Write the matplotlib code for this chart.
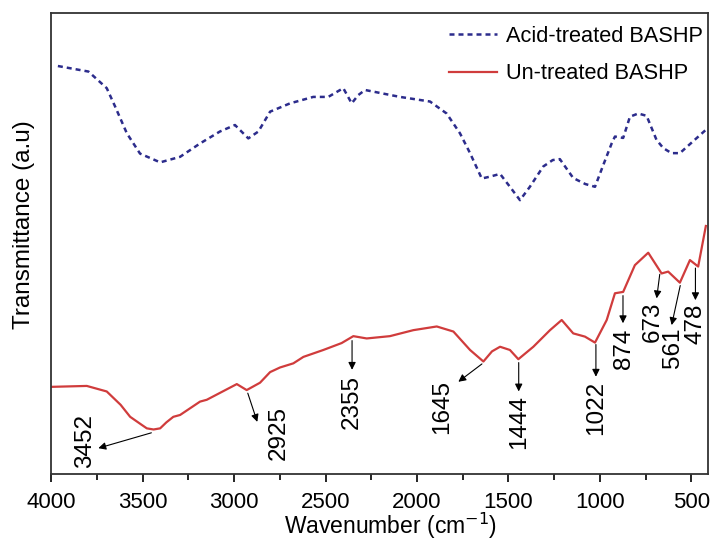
import numpy as np
import matplotlib
matplotlib.use('Agg')
import matplotlib.pyplot as plt

plt.rcParams['font.family'] = ['Liberation Sans', 'DejaVu Sans']

# FTIR spectra (wavenumber in cm-1, transmittance in a.u.)
acid_wn = [3963, 3796, 3696, 3650, 3586, 3514, 3404, 3295, 3186, 3077,
           2995, 2922, 2867, 2803, 2694, 2567, 2485, 2403, 2357, 2321,
           2284, 2093, 1929, 1838, 1765, 1710, 1646, 1601, 1546, 1492,
           1437, 1383, 1310, 1258, 1219, 1146, 1080, 1027, 982, 936,
           918, 873, 836, 791, 745, 691, 654, 609, 563, 490, 417]
acid_t = [88.5, 87.3, 83.7, 79.7, 73.9, 69.5, 67.6, 68.8, 71.7, 74.3,
          75.7, 72.8, 74.3, 78.6, 80.4, 81.8, 81.8, 83.7, 80.4, 82.2,
          83.3, 81.8, 80.8, 78.2, 73.9, 69.6, 64.1, 64.5, 65.1, 62.3,
          59.4, 62.3, 66.7, 68.1, 68.3, 64.2, 62.9, 62.3, 67.0, 71.7,
          73.2, 72.9, 77.5, 78.2, 77.7, 72.5, 70.7, 69.6, 69.6, 72.2, 74.8]

raw_wn = [4000, 3805, 3696, 3620, 3568, 3510, 3477, 3440, 3404, 3370, 3332,
          3295, 3186, 3149, 2985, 2931, 2858, 2803, 2749, 2676, 2621, 2512,
          2412, 2348, 2275, 2148, 2020, 1892, 1801, 1710, 1637, 1590, 1546,
          1492, 1446, 1364, 1273, 1209, 1146, 1082, 1027, 963, 918, 873,
          809, 736, 663, 627, 563, 508, 463, 421]
raw_t = [18.9, 19.1, 17.9, 15.0, 12.4, 10.8, 9.9, 9.65, 9.9, 11.2, 12.4,
         12.8, 15.7, 16.1, 19.5, 18.2, 19.8, 22.1, 23.1, 24.0, 25.4, 26.9,
         28.4, 29.9, 29.4, 29.9, 31.2, 32.0, 30.9, 26.9, 24.4, 26.6, 27.6,
         26.9, 24.9, 27.6, 31.2, 33.4, 30.5, 29.8, 28.5, 33.4, 39.2, 39.5,
         45.3, 48.0, 43.5, 43.9, 41.5, 46.4, 45.0, 53.8]

peak_labels = ['3452', '2925', '2355', '1645', '1444', '1022', '874', '673', '561', '478']

# arrow head and text centre for each peak label
arrow_heads = [(3742, 5.6), (2873, 11.3), (2355, 22.6), (1774, 20.0), (1444, 17.9),
               (1022, 21.1), (874, 32.7), (690, 38.1), (608, 32.3), (478, 37.7)]
text_pos = [(3814, 7.2), (2758, 8.9), (2355, 15.6), (1865, 14.5), (1444, 11.3),
            (1022, 14.3), (868, 27.1), (709, 33.0), (599, 27.4), (478, 32.5)]

fig = plt.figure(figsize=(7.1, 5.42), dpi=100)
ax = fig.add_axes([0.072, 0.1255, 0.925, 0.8505])

ax.plot(acid_wn, acid_t, color='#2c2c8c', lw=1.8, linestyle=(0, (2.0, 1.6)),
        label='Acid-treated BASHP')
ax.plot(raw_wn, raw_t, color='#d03c3c', lw=1.6, label='Un-treated BASHP')

rw = np.array(raw_wn[::-1], dtype=float)
rt = np.array(raw_t[::-1], dtype=float)
for lab, head, tpos in zip(peak_labels, arrow_heads, text_pos):
    wn = float(lab)
    tail = (wn, np.interp(wn, rw, rt) - 0.8)
    ax.annotate('', xy=head, xytext=tail,
                arrowprops=dict(arrowstyle='-|>', color='k', lw=0.8,
                                mutation_scale=11, shrinkA=0, shrinkB=0))
    ax.text(tpos[0], tpos[1], lab, rotation=90, ha='center', va='center',
            fontsize=17.5)

ax.set_xlim(4000, 410)
ax.set_ylim(0, 100)
ax.set_xticks([4000, 3500, 3000, 2500, 2000, 1500, 1000, 500])
ax.set_xticks([3750, 3250, 2750, 2250, 1750, 1250, 750], minor=True)
ax.set_yticks([])
ax.tick_params(axis='x', which='major', direction='out', length=6, width=1.2,
               labelsize=16, pad=7)
ax.tick_params(axis='x', which='minor', direction='out', length=4, width=1.2)
for s in ax.spines.values():
    s.set_linewidth(1.3)
    s.set_color('#333333')

ax.set_xlabel('Wavenumber (cm$^{-1}$)', fontsize=16.5, va='bottom')
ax.xaxis.set_label_coords(0.517, -0.146)
ax.set_ylabel('Transmittance (a.u)', fontsize=17.5)
ax.yaxis.set_label_coords(-0.024, 0.54)

ax.legend(loc='upper right', bbox_to_anchor=(1.012, 1.0), frameon=False,
          fontsize=15.7, handlelength=2.2, handletextpad=0.4,
          borderaxespad=0.2, labelspacing=0.75)

fig.savefig('out.png', dpi=100)
